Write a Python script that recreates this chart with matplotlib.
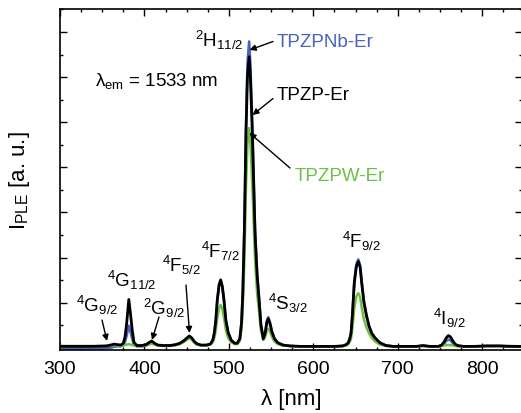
import matplotlib
matplotlib.use("Agg")
import matplotlib.pyplot as plt

plt.rcParams['font.family'] = ['Liberation Sans', 'DejaVu Sans']
plt.rcParams['mathtext.fontset'] = 'custom'
plt.rcParams['mathtext.rm'] = 'Liberation Sans'
plt.rcParams['mathtext.it'] = 'Liberation Sans:italic'
plt.rcParams['mathtext.bf'] = 'Liberation Sans:bold'

# ---- data ----
wavelength = [
    300, 320, 340, 355, 360, 364, 368, 372,
    375, 377, 379, 381.5, 383.5, 385.5, 387.6, 391,
    397, 402, 405, 408.6, 412, 416, 422,
    430, 437, 442, 447, 450.5, 453.2, 456, 459, 462, 467, 473,
    478, 481, 482.8, 484.5, 486.3, 488.5, 490.3, 492.3, 494.2, 496.5, 499.3, 503, 507, 510,
    513, 515, 516.5, 518.3, 520.3, 522, 524, 525.5, 527.8, 531, 533.5, 535.8, 538, 540.8,
    543, 545, 546.7, 548.5, 551, 554, 558, 564, 572,
    585, 605, 625, 635, 639, 641.5, 643.5, 644.7, 646.2, 648.6, 651, 653.3, 655.5, 657.3,
    660, 663.2, 666, 669.2, 673, 679, 686, 695,
    710, 722, 730, 738, 748, 752, 755, 757.5, 760, 762.5, 765, 768, 771, 778,
    790, 805, 820, 833, 848]

tpzp_er = [
    0.03, 0.03, 0.03, 0.04, 0.06, 0.08, 0.07, 0.06,
    0.10, 0.24, 0.55, 1.07, 0.75, 0.40, 0.12, 0.05,
    0.05, 0.07, 0.11, 0.15, 0.10, 0.06, 0.05,
    0.05, 0.07, 0.10, 0.16, 0.22, 0.26, 0.22, 0.14, 0.09, 0.06, 0.06,
    0.08, 0.17, 0.33, 0.60, 1.06, 1.40, 1.50, 1.35, 1.06, 0.60, 0.33, 0.16, 0.10, 0.10,
    0.20, 0.55, 1.20, 2.54, 4.75, 6.00, 6.45, 6.00, 4.75, 2.54, 1.60, 1.06, 0.50, 0.20,
    0.32, 0.56, 0.64, 0.55, 0.35, 0.20, 0.11, 0.06, 0.04,
    0.03, 0.03, 0.03, 0.04, 0.07, 0.11, 0.22, 0.32, 0.69, 1.44, 1.80, 1.91, 1.78, 1.44,
    1.00, 0.69, 0.48, 0.32, 0.22, 0.11, 0.05, 0.03,
    0.03, 0.03, 0.05, 0.03, 0.03, 0.06, 0.13, 0.22, 0.27, 0.24, 0.16, 0.08, 0.05, 0.03,
    0.03, 0.04, 0.04, 0.03, 0.03]

tpzpnb_er = [
    -0.02, -0.02, -0.02, -0.01, 0.00, 0.02, 0.03, 0.03,
    0.06, 0.13, 0.27, 0.49, 0.35, 0.20, 0.07, 0.03,
    0.03, 0.05, 0.08, 0.11, 0.08, 0.05, 0.04,
    0.04, 0.06, 0.09, 0.15, 0.21, 0.25, 0.21, 0.13, 0.08, 0.05, 0.05,
    0.08, 0.17, 0.33, 0.60, 1.06, 1.40, 1.51, 1.36, 1.06, 0.60, 0.33, 0.16, 0.10, 0.10,
    0.20, 0.57, 1.25, 2.65, 4.95, 6.30, 6.79, 6.30, 4.95, 2.65, 1.65, 1.10, 0.52, 0.21,
    0.34, 0.60, 0.68, 0.58, 0.36, 0.20, 0.11, 0.06, 0.04,
    0.03, 0.03, 0.03, 0.04, 0.07, 0.11, 0.22, 0.33, 0.71, 1.48, 1.85, 1.96, 1.83, 1.48,
    1.03, 0.71, 0.49, 0.33, 0.22, 0.11, 0.05, 0.03,
    0.03, 0.03, 0.04, 0.03, 0.03, 0.05, 0.09, 0.15, 0.18, 0.16, 0.11, 0.06, 0.04, 0.03,
    0.03, 0.04, 0.04, 0.03, 0.03]

tpzpw_er = [
    0.04, 0.04, 0.04, 0.04, 0.05, 0.05, 0.05, 0.05,
    0.05, 0.06, 0.07, 0.08, 0.07, 0.06, 0.05, 0.04,
    0.04, 0.05, 0.07, 0.09, 0.07, 0.05, 0.05,
    0.05, 0.06, 0.08, 0.13, 0.18, 0.21, 0.18, 0.11, 0.07, 0.05, 0.05,
    0.07, 0.12, 0.22, 0.38, 0.66, 0.88, 0.95, 0.86, 0.66, 0.38, 0.21, 0.12, 0.08, 0.08,
    0.15, 0.42, 0.90, 1.90, 3.55, 4.50, 4.87, 4.55, 3.60, 1.95, 1.20, 0.80, 0.38, 0.17,
    0.24, 0.38, 0.42, 0.37, 0.24, 0.14, 0.08, 0.05, 0.04,
    0.03, 0.03, 0.03, 0.04, 0.05, 0.08, 0.14, 0.20, 0.42, 0.88, 1.14, 1.21, 1.12, 0.90,
    0.62, 0.44, 0.32, 0.22, 0.14, 0.07, 0.04, 0.03,
    0.03, 0.03, 0.04, 0.03, 0.03, 0.04, 0.05, 0.06, 0.06, 0.06, 0.05, 0.04, 0.03, 0.03,
    0.03, 0.04, 0.04, 0.04, 0.03]

x_ticks = [300, 400, 500, 600, 700, 800]

BLUE = '#4862BE'
GREEN = '#6CC043'

W, H = 521, 413
fig = plt.figure(figsize=(W / 100, H / 100), dpi=100)
ax = fig.add_axes([60 / W, 1 - 350 / H, 462 / W, (350 - 8.5) / H])

ax.plot(wavelength, tpzpnb_er, color=BLUE, lw=1.8, zorder=2)
ax.plot(wavelength, tpzpw_er, color=GREEN, lw=1.8, zorder=3)
ax.plot(wavelength, tpzp_er, color='black', lw=2.0, zorder=4)

ax.set_xlim(300, 847.2)
ax.set_ylim(-0.05, 7.52)
ax.set_xticks(x_ticks)
ax.set_xticks(range(325, 846, 25), minor=True)
ax.set_yticks(range(1, 8))
ax.set_yticks([x + 0.5 for x in range(0, 8)], minor=True)
ax.set_yticklabels([])
ax.tick_params(which='both', direction='in', top=True, right=True, width=1.0)
ax.tick_params(which='major', length=5, labelsize=14, pad=8)
ax.tick_params(which='minor', length=2.5)
for s in ax.spines.values():
    s.set_linewidth(1.2)

ax.set_xlabel('λ [nm]', fontsize=16, labelpad=8)
fig.text(20 / W, 1 - 181 / H, r'I$_{\mathrm{PLE}}$ [a. u.]', rotation=90,
         ha='center', va='center', fontsize=16)


def fp(x, y):
    return (x / W, 1 - y / H)


def label(x, y, s, color='black'):
    fig.text(x / W, 1 - y / H, s, ha='left', va='baseline', fontsize=13.5, color=color)


label(195, 46.7, r'$^{2}$H$_{11/2}$')
label(276.7, 46.7, 'TPZPNb-Er', BLUE)
label(95, 86, r'λ$_{\mathrm{em}}$ = 1533 nm')
label(276.7, 100, 'TPZP-Er')
label(295, 180.7, 'TPZPW-Er', GREEN)
label(76, 311.7, r'$^{4}$G$_{9/2}$')
label(107.3, 286.7, r'$^{4}$G$_{11/2}$')
label(143.3, 315, r'$^{2}$G$_{9/2}$')
label(162.3, 271.7, r'$^{4}$F$_{5/2}$')
label(201.3, 258.3, r'$^{4}$F$_{7/2}$')
label(268.3, 310, r'$^{4}$S$_{3/2}$')
label(341.7, 248.3, r'$^{4}$F$_{9/2}$')
label(432.7, 325, r'$^{4}$I$_{9/2}$')

arrows = [((273, 41.5), (249.5, 50)),
          ((273, 98.5), (252.5, 115)),
          ((290, 168), (249.5, 133)),
          ((102, 320), (107, 341)),
          ((159, 317), (152, 340)),
          ((186, 285), (189.5, 333))]
for tail, head in arrows:
    ax.annotate('', xy=fp(*head), xytext=fp(*tail), xycoords='figure fraction',
                textcoords='figure fraction',
                arrowprops=dict(arrowstyle='-|>', color='black', lw=1.0,
                                mutation_scale=9, shrinkA=0, shrinkB=0), zorder=6)

fig.savefig('out.png', dpi=100)
